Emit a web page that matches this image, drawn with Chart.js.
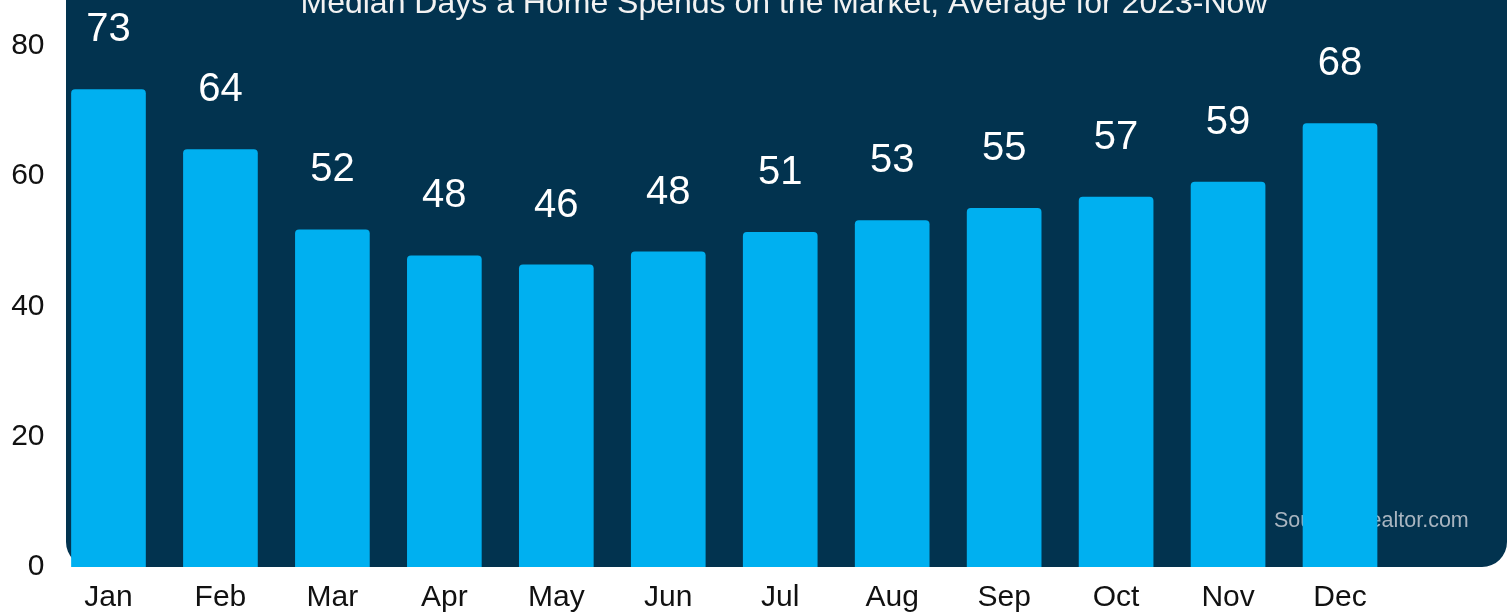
<!DOCTYPE html>
<html>
<head>
<meta charset="utf-8">
<title>Median Days a Home Spends on the Market</title>
<script src="https://cdn.jsdelivr.net/npm/chart.js@4.4.1/dist/chart.umd.min.js"></script>
<style>
    html, body { margin: 0; padding: 0; background: #ffffff; overflow: hidden; }
    #wrap { width: 1511px; height: 614px; }
</style>
</head>
<body>
<div id="wrap"><canvas id="daysChart" width="1511" height="614"></canvas></div>
<script>
// Veriler
const MONTHS = ['Jan', 'Feb', 'Mar', 'Apr', 'May', 'Jun', 'Jul', 'Aug', 'Sep', 'Oct', 'Nov', 'Dec'];
const MEDIAN_DAYS = [73.3, 64.1, 51.8, 47.8, 46.4, 48.4, 51.4, 53.2, 55.1, 56.8, 59.1, 68.1];
const Y_TICKS = [0, 20, 40, 60, 80];
const TITLE_TEXT = 'Median Days a Home Spends on the Market, Average for 2023-Now';
const SOURCE_TEXT = 'Source: Realtor.com';

// Ortak stil ayarları
const STYLE = {
    panel: '#02334f',
    bar: '#00b0f0',
    axisText: '#111111',
    valueText: '#ffffff',
    sourceText: '#a9b5c0',
    axisFont: "'Liberation Sans', Arial, sans-serif",
    valueFont: "'Liberation Sans', Arial, sans-serif"
};

// Lacivert arka plan paneli + kaynak notu (barların arkasında kalır)
const panelPlugin = {
    id: 'panel',
    beforeDraw(chart) {
        const ctx = chart.ctx;
        ctx.save();
        ctx.fillStyle = STYLE.panel;
        ctx.beginPath();
        ctx.roundRect(66, -40, 1441, 607, [0, 0, 25, 25]);
        ctx.fill();

        ctx.fillStyle = STYLE.sourceText;
        ctx.font = `21.5px ${STYLE.axisFont}`;
        ctx.textAlign = 'left';
        ctx.textBaseline = 'alphabetic';
        ctx.fillText(SOURCE_TEXT, 1274, 527);
        ctx.restore();
    }
};

// Başlık ve bar üstü değer etiketleri
const labelPlugin = {
    id: 'valueLabels',
    afterDatasetsDraw(chart) {
        const ctx = chart.ctx;
        const meta = chart.getDatasetMeta(0);
        ctx.save();
        ctx.fillStyle = STYLE.valueText;
        ctx.font = `40px ${STYLE.valueFont}`;
        ctx.textAlign = 'center';
        ctx.textBaseline = 'alphabetic';
        meta.data.forEach((bar, i) => {
            ctx.fillText(String(Math.round(MEDIAN_DAYS[i])), bar.x, bar.y - 48);
        });

        ctx.fillStyle = '#f2f2f2';
        ctx.font = `32px ${STYLE.axisFont}`;
        ctx.fillText(TITLE_TEXT, 784, 13);
        ctx.restore();
    }
};

function renderDaysChart() {
    const canvas = document.getElementById('daysChart');
    if (!canvas) return;
    const ctx = canvas.getContext('2d');

    new Chart(ctx, {
        type: 'bar',
        data: {
            labels: MONTHS,
            datasets: [{
                label: 'Median Days',
                data: MEDIAN_DAYS,
                backgroundColor: STYLE.bar,
                borderWidth: 0,
                borderRadius: { topLeft: 4, topRight: 4 },
                borderSkipped: 'bottom',
                categoryPercentage: 1,
                barPercentage: 0.667
            }]
        },
        options: {
            responsive: false,
            animation: false,
            devicePixelRatio: 1,
            layout: { padding: { left: 0, right: 115, top: 0, bottom: 0 } },
            plugins: {
                legend: { display: false },
                tooltip: { enabled: false },
                title: { display: false }
            },
            scales: {
                x: {
                    grid: { display: false, drawTicks: false },
                    border: { display: false },
                    ticks: {
                        color: STYLE.axisText,
                        padding: 13,
                        maxRotation: 0,
                        font: { family: STYLE.axisFont, size: 30 }
                    },
                    afterFit(scale) {
                        scale.height = 47;
                        scale.paddingLeft = 0;
                        scale.paddingRight = 0;
                    }
                },
                y: {
                    min: 0,
                    max: 87,
                    grid: { display: false, drawTicks: false },
                    border: { display: false },
                    ticks: {
                        color: STYLE.axisText,
                        padding: 8,
                        font: { family: STYLE.axisFont, size: 30 }
                    },
                    afterBuildTicks(scale) {
                        scale.ticks = Y_TICKS.map(v => ({ value: v }));
                    },
                    afterFit(scale) {
                        scale.width = 52.5;
                        // üst etiket taşması için bırakılan boşluğu kaldır
                        scale.paddingTop = 0;
                        scale.paddingBottom = 0;
                    }
                }
            }
        },
        plugins: [panelPlugin, labelPlugin]
    });
}

renderDaysChart();
</script>
</body>
</html>
